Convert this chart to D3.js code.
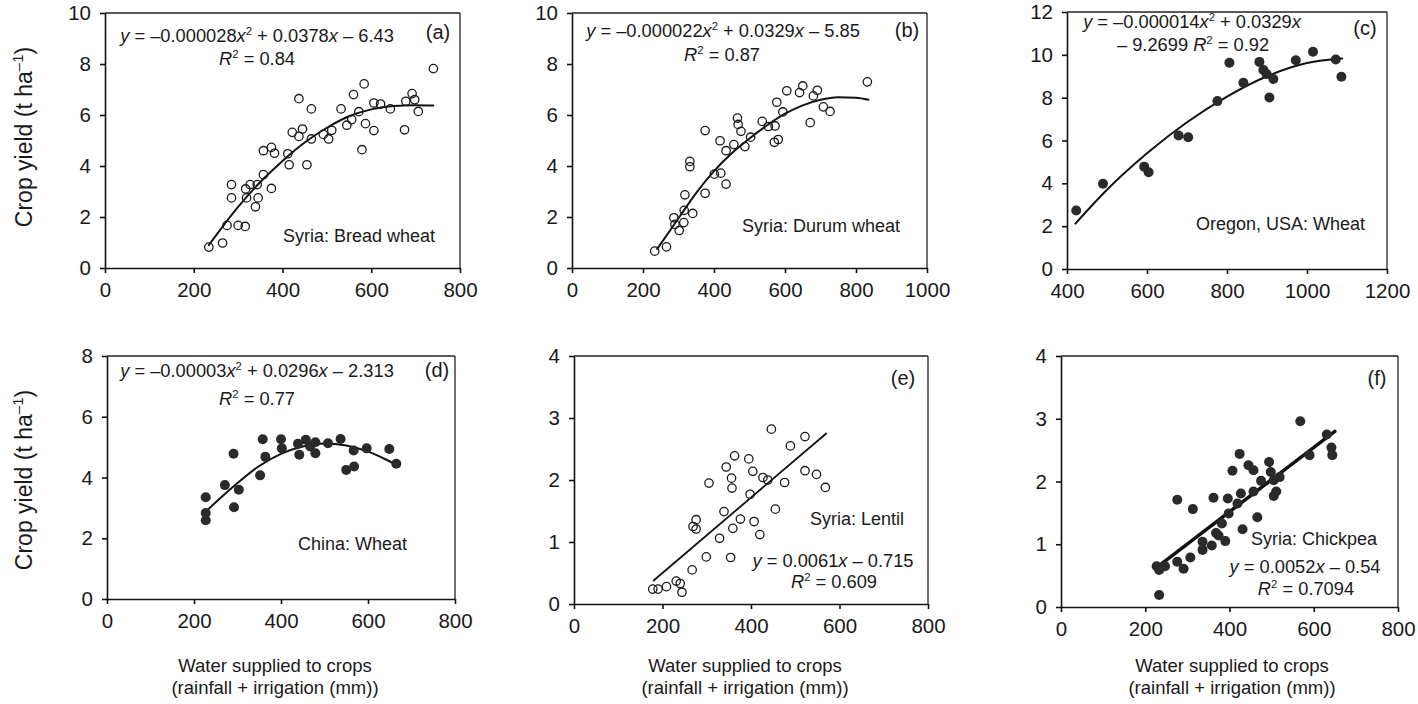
<!DOCTYPE html>
<html><head><meta charset="utf-8">
<script src="https://cdn.jsdelivr.net/npm/d3@7"></script>
<style>
body{margin:0;background:#fff}
svg{display:block}
text{font-family:"Liberation Sans", Arial, Helvetica, sans-serif;fill:#1a1a1a}
</style>
</head><body>
<svg id="chart" width="1418" height="704"></svg>
<script>
// ---------- DATA ----------
// (a) Syria: Bread wheat
const breadWater = [234,265,275,300,316,285,285,317,319,327,343,345,339,357,357,375,382,375,412,415,422,437,445,437,455,465,465,492,504,511,532,545,556,560,572,584,579,587,606,606,621,643,675,678,692,698,706,740];
const breadYield = [0.82,0.98,1.67,1.67,1.63,3.27,2.75,3.1,2.75,3.27,3.27,2.75,2.4,3.66,4.6,4.73,4.5,3.12,4.48,4.05,5.32,5.16,5.45,6.64,4.05,5.06,6.24,5.24,5.06,5.4,6.24,5.6,5.82,6.8,6.13,7.22,4.64,5.66,5.39,6.47,6.43,6.24,5.42,6.54,6.84,6.6,6.14,7.82];
const breadFitX = [234,300,350,400,450,500,550,600,650,700,740];
const breadFitY = [0.9,2.4,3.37,4.2,4.92,5.5,5.95,6.22,6.35,6.38,6.37];

// (b) Syria: Durum wheat
const durumWater = [233,266,287,290,302,315,316,318,340,375,375,332,332,401,419,417,434,434,456,466,468,476,487,503,536,553,572,570,581,577,594,605,641,650,671,680,691,708,727,832];
const durumYield = [0.66,0.83,1.97,1.71,1.47,1.78,2.26,2.87,2.14,2.93,5.39,4.18,3.97,3.68,3.72,4.99,4.6,3.29,4.84,5.88,5.63,5.36,4.76,5.13,5.75,5.55,5.57,4.93,5.04,6.5,6.12,6.95,6.88,7.14,5.7,6.75,6.97,6.32,6.14,7.3];
const durumFitX = [240,300,350,400,450,500,550,600,650,700,750,800,835];
const durumFitY = [0.75,1.95,2.95,3.8,4.5,5.08,5.6,6.05,6.38,6.6,6.7,6.68,6.6];

// (c) Oregon, USA: Wheat
const oregonWater = [423,490,593,604,679,703,776,806,841,881,891,899,906,916,972,1015,1072,1086];
const oregonYield = [2.73,3.98,4.78,4.52,6.23,6.15,7.84,9.63,8.7,9.67,9.29,9.1,8.01,8.87,9.75,10.14,9.78,8.98];
const oregonFitX = [421,500,600,700,800,900,1000,1088];
const oregonFitY = [2.12,3.7,5.4,6.85,8.05,9.0,9.62,9.83];

// (d) China: Wheat
const chinaWater = [227,227,227,271,291,292,303,352,358,364,400,402,439,442,457,467,479,479,508,537,550,567,568,597,649,665];
const chinaYield = [3.35,2.83,2.59,3.75,4.78,3.02,3.6,4.07,5.26,4.68,5.26,4.96,5.11,4.75,5.24,5.02,5.16,4.8,5.13,5.27,4.25,4.89,4.36,4.96,4.94,4.45];
const chinaFitX = [227,300,350,400,450,500,550,600,640,665];
const chinaFitY = [2.88,3.82,4.38,4.78,5.02,5.12,5.05,4.85,4.6,4.42];

// (e) Syria: Lentil
const lentilWater = [178,190,209,231,240,244,267,269,276,276,299,305,329,339,344,354,356,357,359,363,376,395,398,404,407,420,427,438,446,455,476,489,522,522,548,568];
const lentilYield = [0.24,0.24,0.28,0.37,0.33,0.19,0.55,1.25,1.36,1.21,0.76,1.95,1.06,1.49,2.21,0.75,2.03,1.87,1.22,2.39,1.37,2.34,1.77,2.14,1.33,1.12,2.04,2.0,2.82,1.53,1.96,2.55,2.7,2.15,2.09,1.88];
const lentilFitX = [180,570];
const lentilFitY = [0.38,2.75];

// (f) Syria: Chickpea
const chickWater = [227,233,247,233,276,276,291,307,313,336,336,358,362,368,374,382,390,396,398,407,419,424,427,431,445,457,457,466,475,494,498,505,505,511,519,568,590,631,642,644];
const chickYield = [0.65,0.59,0.65,0.19,1.71,0.72,0.61,0.79,1.56,1.04,0.91,0.98,1.74,1.18,1.14,1.33,1.05,1.73,1.49,2.17,1.65,2.44,1.81,1.24,2.26,2.18,1.84,1.43,2.01,2.31,2.15,2.02,1.77,1.84,2.07,2.96,2.42,2.75,2.54,2.42];
const chickFitX = [229,650];
const chickFitY = [0.64,2.8];

// tick labels
const ticks0to800 = [0,200,400,600,800];
const ticks0to1000 = [0,200,400,600,800,1000];
const ticks400to1200 = [400,600,800,1000,1200];
const ticks0to10 = [0,2,4,6,8,10];
const ticks0to12 = [0,2,4,6,8,10,12];
const ticks0to8 = [0,2,4,6,8];
const ticks0to4 = [0,1,2,3,4];

// text
const yTitle = "Crop yield (t ha";
const xTitle1 = "Water supplied to crops";
const xTitle2 = "(rainfall + irrigation (mm))";

// ---------- PANEL CONFIG ----------
const panels = [
 {key:"(a)", box:{l:105,r:460,t:13,b:268}, xd:[0,800], yd:[0,10], xt:ticks0to800, yt:ticks0to10,
  px:breadWater, py:breadYield, fx:breadFitX, fy:breadFitY, filled:false, lw:2, curve:d3.curveMonotoneX,
  crop:"Syria: Bread wheat", cropPos:[435,242,"end"], keyPos:[438,39],
  eq:[[[{t:"y",i:1},{t:" = –0.000028"},{t:"x",i:1},{t:"2",s:1},{t:" + 0.0378"},{t:"x",i:1},{t:" – 6.43"}],257,42],
      [[{t:"R",i:1},{t:"2",s:1},{t:" = 0.84"}],257,65]]},
 {key:"(b)", box:{l:572,r:927,t:13,b:268}, xd:[0,1000], yd:[0,10], xt:ticks0to1000, yt:ticks0to10,
  px:durumWater, py:durumYield, fx:durumFitX, fy:durumFitY, filled:false, lw:2, curve:d3.curveMonotoneX,
  crop:"Syria: Durum wheat", cropPos:[900,232,"end"], keyPos:[907,37],
  eq:[[[{t:"y",i:1},{t:" = –0.000022"},{t:"x",i:1},{t:"2",s:1},{t:" + 0.0329"},{t:"x",i:1},{t:" – 5.85"}],723,37],
      [[{t:"R",i:1},{t:"2",s:1},{t:" = 0.87"}],722,61]]},
 {key:"(c)", box:{l:1067,r:1387,t:12,b:269}, xd:[400,1200], yd:[0,12], xt:ticks400to1200, yt:ticks0to12,
  px:oregonWater, py:oregonYield, fx:oregonFitX, fy:oregonFitY, filled:true, lw:2, curve:d3.curveMonotoneX,
  crop:"Oregon, USA: Wheat", cropPos:[1365,230,"end"], keyPos:[1365,35],
  eq:[[[{t:"y",i:1},{t:" = –0.000014"},{t:"x",i:1},{t:"2",s:1},{t:" + 0.0329"},{t:"x",i:1}],1192,28],
      [[{t:"– 9.2699 "},{t:"R",i:1},{t:"2",s:1},{t:" = 0.92"}],1193,51]]},
 {key:"(d)", box:{l:107,r:455,t:356,b:599}, xd:[0,800], yd:[0,8], xt:ticks0to800, yt:ticks0to8,
  px:chinaWater, py:chinaYield, fx:chinaFitX, fy:chinaFitY, filled:true, lw:2, curve:d3.curveMonotoneX,
  crop:"China: Wheat", cropPos:[407,550,"end"], keyPos:[437,377],
  eq:[[[{t:"y",i:1},{t:" = –0.00003"},{t:"x",i:1},{t:"2",s:1},{t:" + 0.0296"},{t:"x",i:1},{t:" – 2.313"}],257,377],
      [[{t:"R",i:1},{t:"2",s:1},{t:" = 0.77"}],257,405]]},
 {key:"(e)", box:{l:574,r:928,t:356,b:604}, xd:[0,800], yd:[0,4], xt:ticks0to800, yt:ticks0to4,
  px:lentilWater, py:lentilYield, fx:lentilFitX, fy:lentilFitY, filled:false, lw:1.8, curve:d3.curveLinear,
  crop:"Syria: Lentil", cropPos:[857,525,"middle"], keyPos:[903,385],
  eq:[[[{t:"y",i:1},{t:" = 0.0061"},{t:"x",i:1},{t:" – 0.715"}],833,567],
      [[{t:"R",i:1},{t:"2",s:1},{t:" = 0.609"}],834,588]]},
 {key:"(f)", box:{l:1061,r:1398,t:356,b:607}, xd:[0,800], yd:[0,4], xt:ticks0to800, yt:ticks0to4,
  px:chickWater, py:chickYield, fx:chickFitX, fy:chickFitY, filled:true, lw:3.5, curve:d3.curveLinear,
  crop:"Syria: Chickpea", cropPos:[1314,545,"middle"], keyPos:[1377,385],
  eq:[[[{t:"y",i:1},{t:" = 0.0052"},{t:"x",i:1},{t:" – 0.54"}],1305,573],
      [[{t:"R",i:1},{t:"2",s:1},{t:" = 0.7094"}],1306,595]]}
];

const svg = d3.select("#chart");
const FONT = '"Liberation Sans", Arial, Helvetica, sans-serif';

function richText(g, parts, x, y, size, anchor){
  const t = g.append("text").attr("x",x).attr("y",y).attr("font-size",size).attr("text-anchor",anchor||"middle");
  let shifted = false;
  parts.forEach(p=>{
    const ts = t.append("tspan").text(p.t);
    if(p.s){ ts.attr("dy",-7).attr("font-size",size*0.62); shifted=true; }
    else if(shifted){ ts.attr("dy",7); shifted=false; }
    if(p.i) ts.attr("font-style","italic");
  });
  return t;
}

panels.forEach(p=>{
  const x = d3.scaleLinear().domain(p.xd).range([p.box.l,p.box.r]);
  const y = d3.scaleLinear().domain(p.yd).range([p.box.b,p.box.t]);
  const g = svg.append("g");

  // frame top/right
  g.append("line").attr("x1",p.box.l).attr("x2",p.box.r).attr("y1",p.box.t).attr("y2",p.box.t)
    .attr("stroke","#222").attr("stroke-width",1.3);
  g.append("line").attr("x1",p.box.r).attr("x2",p.box.r).attr("y1",p.box.t).attr("y2",p.box.b)
    .attr("stroke","#222").attr("stroke-width",1.3);

  const ax = g.append("g").attr("transform",`translate(0,${p.box.b})`)
    .call(d3.axisBottom(x).tickValues(p.xt).tickSize(5).tickPadding(9).tickSizeOuter(0).tickFormat(d3.format("d")));
  const ay = g.append("g").attr("transform",`translate(${p.box.l},0)`)
    .call(d3.axisLeft(y).tickValues(p.yt).tickSize(5).tickPadding(9).tickSizeOuter(0).tickFormat(d3.format("d")));
  [ax,ay].forEach(a=>{
    a.attr("font-size",20.5).attr("font-family",FONT);
    a.select(".domain").attr("stroke","#111").attr("stroke-width",1.6);
    a.selectAll(".tick line").attr("stroke","#111").attr("stroke-width",1.6);
    a.selectAll(".tick text").attr("fill","#1a1a1a");
  });

  // fit line
  const fit = p.fx.map((v,i)=>[v,p.fy[i]]);
  g.append("path").datum(fit)
    .attr("d", d3.line().x(d=>x(d[0])).y(d=>y(d[1])).curve(p.curve))
    .attr("fill","none").attr("stroke","#111").attr("stroke-width",p.lw).attr("stroke-linecap","round");

  // points
  const pts = p.px.map((v,i)=>[v,p.py[i]]);
  g.selectAll("circle.pt").data(pts).enter().append("circle")
    .attr("cx",d=>x(d[0])).attr("cy",d=>y(d[1]))
    .attr("r", p.filled?5:4.2)
    .attr("fill", p.filled?"#2a2a2a":"none")
    .attr("stroke", "#1a1a1a").attr("stroke-width", p.filled?0:1.3);

  // labels
  g.append("text").attr("x",p.keyPos[0]).attr("y",p.keyPos[1]).attr("text-anchor","middle")
    .attr("font-size",20).text(p.key);
  g.append("text").attr("x",p.cropPos[0]).attr("y",p.cropPos[1]).attr("text-anchor",p.cropPos[2])
    .attr("font-size",18).text(p.crop);
  p.eq.forEach(e=>richText(g,e[0],e[1],e[2],18.3,"middle"));
});

// y titles
[137,480].forEach(cy=>{
  const t = svg.append("text").attr("transform",`translate(24,${cy}) rotate(-90)`)
    .attr("text-anchor","middle").attr("font-size",23).attr("dy","0.35em");
  t.append("tspan").text(yTitle);
  t.append("tspan").attr("dy",-9).attr("font-size",15).text("–1");
  t.append("tspan").attr("dy",9).text(")");
});

// x titles
[275,745,1232].forEach(cx=>{
  svg.append("text").attr("x",cx).attr("y",672).attr("text-anchor","middle").attr("font-size",18.5).text(xTitle1);
  svg.append("text").attr("x",cx).attr("y",694).attr("text-anchor","middle").attr("font-size",18.5).text(xTitle2);
});
</script>
</body></html>
